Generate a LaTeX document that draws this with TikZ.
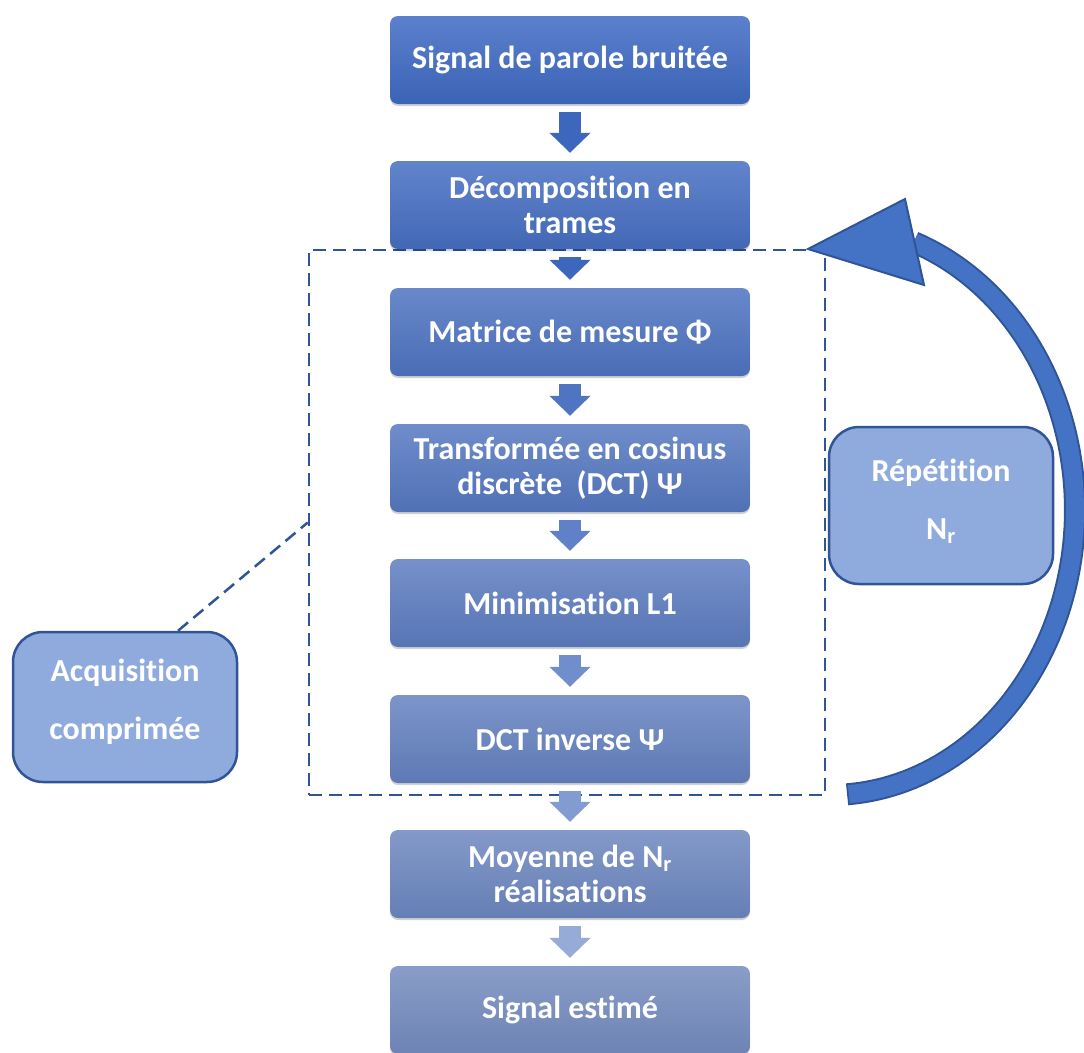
\documentclass[tikz,border=0pt]{standalone}
\usepackage{fontspec}
\setmainfont{Carlito}[Ligatures=NoCommon]
\usetikzlibrary{arrows.meta,shadows,calc}
\definecolor{dk}{HTML}{2F5597}
\definecolor{acc}{HTML}{4472C4}
\definecolor{lt}{HTML}{8FAADC}
\definecolor{At}{HTML}{5B80CC}
\definecolor{Bt}{HTML}{8A9DC8}
\definecolor{Ab}{HTML}{3B63B6}
\definecolor{Bb}{HTML}{6C83B4}
\definecolor{Aa}{HTML}{3D67BD}
\definecolor{Ba}{HTML}{B0BEDF}
\colorlet{T0}{At}\colorlet{B0}{Ab}
\colorlet{T1}{At!86!Bt}\colorlet{B1}{Ab!86!Bb}
\colorlet{T2}{At!71!Bt}\colorlet{B2}{Ab!71!Bb}
\colorlet{T3}{At!57!Bt}\colorlet{B3}{Ab!57!Bb}
\colorlet{T4}{At!43!Bt}\colorlet{B4}{Ab!43!Bb}
\colorlet{T5}{At!29!Bt}\colorlet{B5}{Ab!29!Bb}
\colorlet{T6}{At!14!Bt}\colorlet{B6}{Ab!14!Bb}
\colorlet{T7}{Bt}\colorlet{B7}{Bb}
\colorlet{a1}{Aa}
\colorlet{a2}{Aa!85!Ba}
\colorlet{a3}{Aa!70!Ba}
\colorlet{a4}{Aa!55!Ba}
\colorlet{a5}{Aa!40!Ba}
\colorlet{a6}{Aa!22!Ba}
\colorlet{a7}{Ba}
\tikzset{
  stepbox/.style={rounded corners=8pt, minimum width=360pt, minimum height=88pt,
    text=white, font=\bfseries\fontsize{32}{35}\selectfont, align=center, inner sep=0pt,
    drop shadow={shadow xshift=0pt, shadow yshift=-2pt, opacity=0.18, fill=black}},
  lev/.style={top color=T#1, bottom color=B#1},
  callbox/.style={rounded corners=30pt, minimum width=224pt, fill=lt, draw=dk,
    line width=2.5pt, text=white, font=\bfseries\fontsize{32}{58}\selectfont,
    align=center, inner sep=0pt},
  flowarr/.style={draw=#1, line width=22pt, -{Triangle[width=40pt,length=20pt]}},
  grpline/.style={draw=dk, line width=2.5pt, dash pattern=on 13pt off 7pt},
}
\begin{document}
\begin{tikzpicture}[x=1pt,y=-1pt]
\useasboundingbox (0,0) rectangle (1084,1052);
% group frame
\node[grpline, minimum width=516pt, minimum height=545pt, inner sep=0pt] (grp) at (567,522.5) {};
% steps
\node[stepbox, lev=0] (n1) at (570,60) {Signal de parole bruitée};
\node[stepbox, lev=1] (n2) at (570,205) {Décomposition en\\trames};
\node[stepbox, lev=2] (n3) at (570,332) {Matrice de mesure Φ};
\node[stepbox, lev=3] (n4) at (570,468) {Transformée en cosinus\\discrète\ \ (DCT) Ψ};
\node[stepbox, lev=4] (n5) at (570,603) {Minimisation L1};
\node[stepbox, lev=5] (n6) at (570,739) {DCT inverse Ψ};
\node[stepbox, lev=6] (n7) at (570,874) {Moyenne de N\textsubscript{r}\\réalisations};
\node[stepbox, lev=7] (n8) at (570,1010) {Signal estimé};
% flow arrows
\draw[flowarr=a1] ([yshift=-8pt]n1.south) -- ([yshift=8pt]n2.north);
\draw[flowarr=a1] ([yshift=-8pt]n2.south) -- ([yshift=8pt]n3.north);
\draw[flowarr=a2] ([yshift=-8pt]n3.south) -- ([yshift=8pt]n4.north);
\draw[flowarr=a3] ([yshift=-8pt]n4.south) -- ([yshift=8pt]n5.north);
\draw[flowarr=a4] ([yshift=-8pt]n5.south) -- ([yshift=8pt]n6.north);
\draw[flowarr=a5] ([yshift=-8pt]n6.south) -- ([yshift=8pt]n7.north);
\draw[flowarr=a6] ([yshift=-8pt]n7.south) -- ([yshift=8pt]n8.north);
% callouts
\node[callbox, minimum height=150pt, text depth=16pt] (acq) at (125,707) {Acquisition\\comprimée};
\draw[grpline] ([xshift=53pt]acq.north) -- (grp.west);
\node[callbox, minimum height=157pt, text depth=12pt] (rep) at (941,505.5) {Répétition\\N\textsubscript{r}};
% loop arrow
\draw[dk, line width=22pt] plot[domain=86:-70, samples=90, variable=\t] ({830+245*cos(\t)}, {510+285*sin(\t)});
\draw[acc, line width=18pt] plot[domain=85.6:-70, samples=90, variable=\t] ({830+245*cos(\t)}, {510+285*sin(\t)});
\filldraw[fill=acc, draw=dk, line width=2pt, line join=miter] (808,249) -- (905,199) -- (924,285) -- cycle;
\end{tikzpicture}
\end{document}
